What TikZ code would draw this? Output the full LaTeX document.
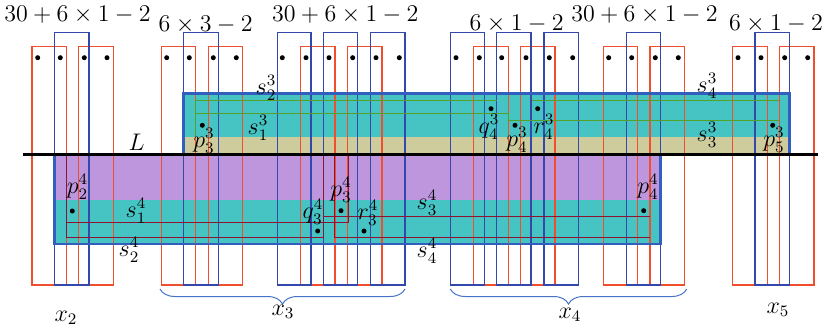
\documentclass[tikz,border=0pt]{standalone}
\usetikzlibrary{decorations.pathreplacing}
\definecolor{rrect}{RGB}{240,78,45}
\definecolor{brect}{RGB}{52,72,172}
\definecolor{boxblue}{RGB}{50,95,190}
\definecolor{cyanf}{RGB}{70,196,196}
\definecolor{khakif}{RGB}{206,204,157}
\definecolor{purplef}{RGB}{190,150,222}
\definecolor{greenl}{RGB}{85,160,40}
\definecolor{maroonl}{RGB}{140,20,50}
\definecolor{bracec}{RGB}{70,115,200}
\tikzset{
  redbar/.style={draw=rrect,line width=0.7pt},
  bluebar/.style={draw=brect,line width=0.7pt},
  bigbox/.style={draw=boxblue,line width=1.4pt},
  seggreen/.style={draw=greenl,line width=0.7pt},
  segmaroon/.style={draw=maroonl,line width=0.75pt},
  lbl/.style={inner sep=0pt,font=\fontsize{12}{14}\selectfont},
  toplbl/.style={inner sep=0pt,anchor=base,font=\fontsize{12}{14}\selectfont},
  ptdot/.style={fill=black},
  bracedeco/.style={draw=bracec,line width=0.5pt,decorate,decoration={brace,mirror,amplitude=7.5pt}}
}
\begin{document}
\begin{tikzpicture}[x=0.5pt,y=-0.5pt]
\useasboundingbox (0,0) rectangle (827,333);
% fills
\fill[cyanf] (183.7,93.7) rectangle (789.7,136.7);
\fill[khakif] (183.7,136.7) rectangle (789.7,154);
\fill[purplef] (54.7,154) rectangle (660.3,200);
\fill[cyanf] (54.7,200) rectangle (660.3,244);
% red bars
\foreach \a/\b in {32/66.3,78.7/113.3,161.7/195.3,208.3/242.3,300.7/335,347.7/382,473.7/508.3,520.7/555,603.3/637.7,650/684.3,732.7/767.3,779.7/814}
  \draw[redbar] (\a,46.7) rectangle (\b,285);
% blue bars
\foreach \a/\b in {54.7/89,183.7/218.3,277.3/311,323.3/357.7,370.7/405,450.3/484.3,496.7/531,544/578.7,626.3/660.3,755/789.7}
  \draw[bluebar] (\a,32.7) rectangle (\b,285);
% green segments (level 3)
\draw[seggreen] (195.3,137) -- (195.3,100.3) -- (496.7,100.3);
\draw[seggreen] (531.7,100.3) -- (779,100.3);
\draw[seggreen] (195.3,113.7) -- (508.3,113.7) -- (508.3,120.7) -- (779,120.7);
% maroon segments (level 4)
\draw[segmaroon] (66.7,154) -- (66.7,237.3) -- (323.3,237.3) -- (323.3,154);
\draw[segmaroon] (66.7,222.7) -- (348.3,222.7) -- (348.3,154);
\draw[segmaroon] (323.3,216.7) -- (650,216.7);
\draw[segmaroon] (334.3,154) -- (334.3,237.3) -- (650,237.3);
% big boxes
\draw[bigbox] (183.7,154) -- (183.7,93.7) -- (789.7,93.7) -- (789.7,154);
\draw[bigbox] (54.7,154) -- (54.7,244) -- (660.3,244) -- (660.3,154);
% line L
\coordinate (Lw) at (23.3,154.3);
\coordinate (Le) at (818,154.3);
\draw[line width=1.6pt] (Lw) -- (Le);
\node[lbl] (labL) at (136.7,142) {$L$};
% top dots
\foreach \x in {37.7,60.3,84.3,107,166.7,189.3,213.3,236.3,282.3,306,329,352.7,376,399.3,456,479.3,501.7,526,549.3,572.7,608.7,631.7,655.3,678.3,738,761,784.7,807.7}
  \fill[ptdot] (\x,57.7) circle (2.5);
% point dots
\foreach \x/\y in {202.3/125.3,491/108.7,515/125.3,537.7/108.7,772.7/125.3,72.3/211,317.7/231,341/210.7,364/231,643.7/210.7}
  \fill[ptdot] (\x,\y) circle (2.5);
% top labels
\node[toplbl] (t1) at (77.5,21.7) {$30+6\times1-2$};
\node[toplbl] (t2) at (205.7,31.7) {$6\times3-2$};
\node[toplbl] (t3) at (345.3,21.7) {$30+6\times1-2$};
\node[toplbl] (t4) at (516.7,30) {$6\times1-2$};
\node[toplbl] (t5) at (644.5,21.7) {$30+6\times1-2$};
\node[toplbl] (t6) at (776,30) {$6\times1-2$};
% level-3 labels
\node[lbl] (ls23) at (266,88) {$s_2^3$};
\node[lbl] (ls13) at (258,128) {$s_1^3$};
\node[lbl] (lp33) at (204,141) {$p_3^3$};
\node[lbl] (lq43) at (489,127) {$q_4^3$};
\node[lbl] (lp43) at (517,140) {$p_4^3$};
\node[lbl] (lr43) at (544,127) {$r_4^3$};
\node[lbl] (ls43) at (707,86) {$s_4^3$};
\node[lbl] (ls33) at (707,135) {$s_3^3$};
\node[lbl] (lp53) at (774,140) {$p_5^3$};
% level-4 labels
\node[lbl] (lp24) at (77.5,187) {$p_2^4$};
\node[lbl] (ls14) at (136,211) {$s_1^4$};
\node[lbl] (ls24) at (129,250) {$s_2^4$};
\node[lbl] (lq34) at (313,212) {$q_3^4$};
\node[lbl] (lp34) at (341,190) {$p_3^4$};
\node[lbl] (lr34) at (368,213) {$r_3^4$};
\node[lbl] (ls34) at (427,203) {$s_3^4$};
\node[lbl] (ls44) at (427,251) {$s_4^4$};
\node[lbl] (lp44) at (648,187) {$p_4^4$};
% braces
\coordinate (b3a) at (160,289);
\coordinate (b3b) at (405,289);
\coordinate (b4a) at (450.3,289);
\coordinate (b4b) at (686.7,289);
\draw[bracedeco] (b3a) -- (b3b);
\draw[bracedeco] (b4a) -- (b4b);
% x labels
\node[lbl] (x2) at (66,318) {$x_2$};
\node[lbl] (x3) at (283,312) {$x_3$};
\node[lbl] (x4) at (570,315) {$x_4$};
\node[lbl] (x5) at (778,310) {$x_5$};
\end{tikzpicture}
\end{document}
